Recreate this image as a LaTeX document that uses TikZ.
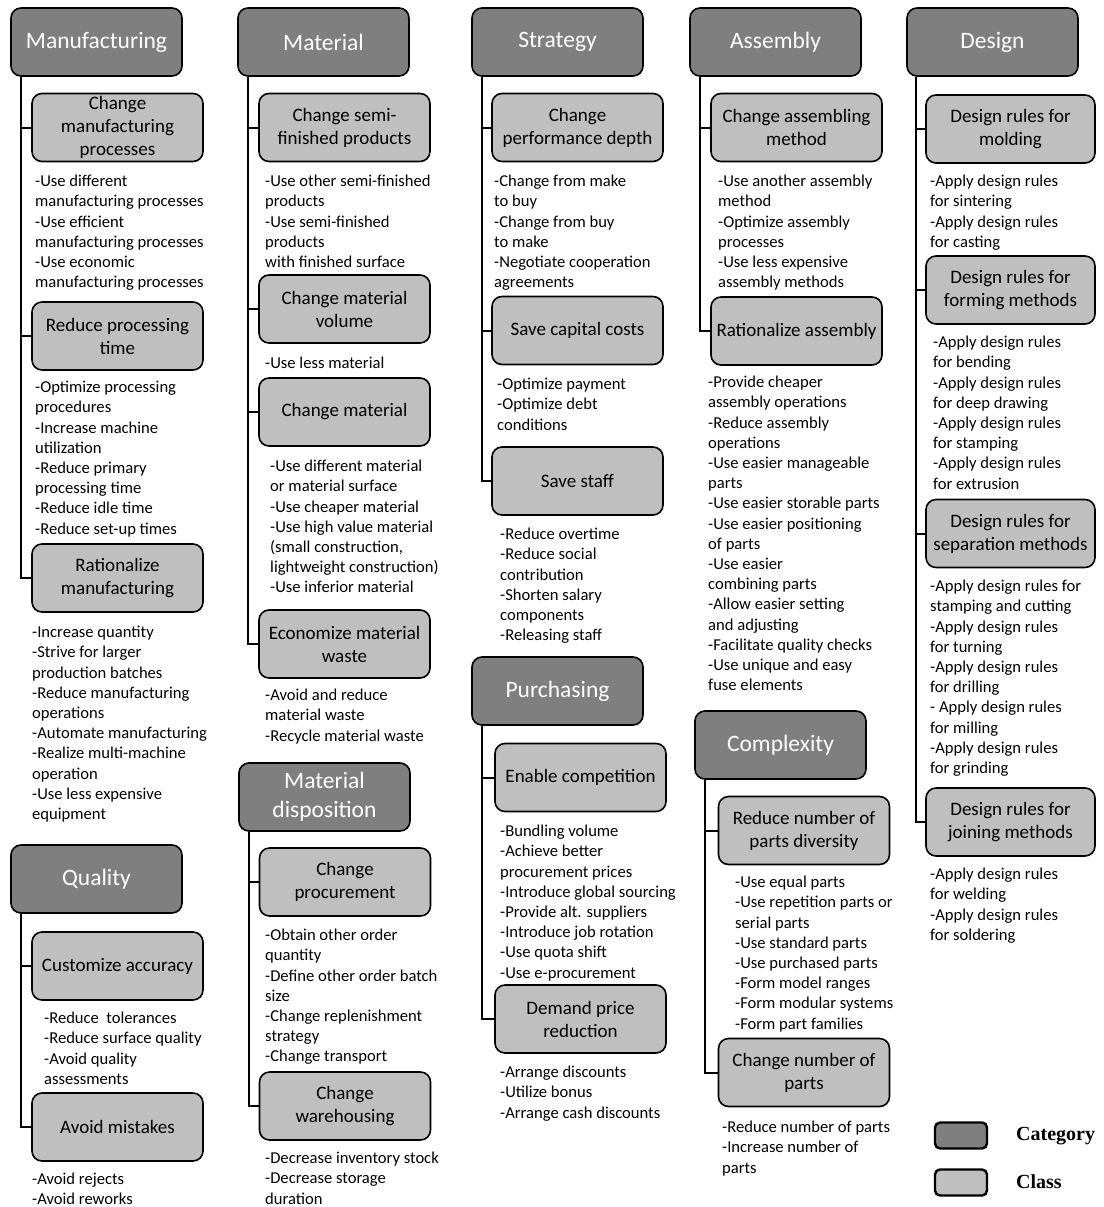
\documentclass[tikz,border=0pt]{standalone}
\usepackage{fontspec}
\setmainfont{Carlito}
\newfontfamily\legendfont{Liberation Serif}
\usetikzlibrary{positioning}

\definecolor{catgray}{HTML}{7F7F7F}
\definecolor{clsgray}{HTML}{BFBFBF}

\begin{document}
\begin{tikzpicture}[x=1pt, y=-1pt,
    category/.style={draw, line width=1.6pt, rounded corners=10pt, fill=catgray, text=white,
        minimum width=171pt, minimum height=68pt, inner sep=1pt, align=center,
        font=\fontsize{23.5}{29}\selectfont},
    class/.style={draw, line width=1.6pt, rounded corners=10pt, fill=clsgray,
        minimum width=171pt, minimum height=68pt, inner sep=1pt, align=center,
        font=\fontsize{19}{23}\selectfont},
    items/.style={anchor=north west, align=left, inner sep=0pt, yshift=-4pt,
        font=\fontsize{16.6}{20.2}\selectfont, execute at begin node=\strut},
    conn/.style={line width=2pt},
    key/.style={draw, line width=2.4pt, rounded corners=5pt,
        minimum width=52pt, minimum height=26pt, inner sep=0pt},
    keytext/.style={anchor=west, inner sep=0pt, font=\legendfont\bfseries\fontsize{20}{24}\selectfont}]

    \useasboundingbox (0,0) rectangle (1103,1207);

    % --- Manufacturing ---
    \node[category] (man) at (96.5,42) {Manufacturing};
    \node[class] (man1) at (117.5,127.5) {Change\\manufacturing\\processes};
    \node[items] (tman1) at (35,171) {-Use different\\manufacturing processes\\-Use efficient\\manufacturing processes\\-Use economic\\manufacturing processes};
    \node[class] (man2) at (117.5,336) {Reduce processing\\time};
    \node[items] (tman2) at (35,377) {-Optimize processing\\procedures\\-Increase machine\\utilization\\-Reduce primary\\processing time\\-Reduce idle time\\-Reduce set-up times};
    \node[class] (man3) at (117.5,578) {Rationalize\\manufacturing};
    \node[items] (tman3) at (32,622) {-Increase quantity\\-Strive for larger\\production batches\\-Reduce manufacturing\\operations\\-Automate manufacturing\\-Realize multi-machine\\operation\\-Use less expensive\\equipment};
    \foreach \c in {man1, man2, man3}
        \draw[conn] ([xshift=11pt]man.south west) |- (\c.west);

    % --- Quality ---
    \node[category] (qual) at (96.5,879) {Quality};
    \node[class] (qual1) at (117.5,966) {Customize accuracy};
    \node[items] (tqual1) at (44,1008) {-Reduce~ tolerances\\-Reduce surface quality\\-Avoid quality\\assessments};
    \node[class] (qual2) at (117.5,1127) {Avoid mistakes};
    \node[items] (tqual2) at (32,1169) {-Avoid rejects\\-Avoid reworks};
    \foreach \c in {qual1, qual2}
        \draw[conn] ([xshift=11pt]qual.south west) |- (\c.west);

    % --- Material ---
    \node[category] (mat) at (323.5,42) {Material};
    \node[class] (mat1) at (344.5,127.5) {Change semi-\\finished products};
    \node[items] (tmat1) at (265,171) {-Use other semi-finished\\products\\-Use semi-finished\\products\\with finished surface};
    \node[class] (mat2) at (344.5,309) {Change material\\volume};
    \node[items] (tmat2) at (265,350) {-Use less material};
    \node[class] (mat3) at (344.5,412) {Change material};
    \node[items] (tmat3) at (270,456) {-Use different material\\or material surface\\-Use cheaper material\\-Use high value material\\(small construction,\\lightweight construction)\\-Use inferior material};
    \node[class] (mat4) at (344.5,644) {Economize material\\waste};
    \node[items] (tmat4) at (265,685) {-Avoid and reduce\\material waste\\-Recycle material waste};
    \foreach \c in {mat1, mat2, mat3, mat4}
        \draw[conn] ([xshift=11pt]mat.south west) |- (\c.west);

    % --- Material disposition ---
    \node[category] (disp) at (324.5,797) {Material\\disposition};
    \node[class] (disp1) at (345,882) {Change\\procurement};
    \node[items] (tdisp1) at (265,925) {-Obtain other order\\quantity\\-Define other order batch\\size\\-Change replenishment\\strategy\\-Change transport};
    \node[class] (disp2) at (345,1106) {Change\\warehousing};
    \node[items] (tdisp2) at (265,1148) {-Decrease inventory stock\\-Decrease storage\\duration};
    \foreach \c in {disp1, disp2}
        \draw[conn] ([xshift=11pt]disp.south west) |- (\c.west);

    % --- Strategy ---
    \node[category] (strat) at (557.5,42) {Strategy};
    \node[class] (strat1) at (577.5,127.5) {Change\\performance depth};
    \node[items] (tstrat1) at (494,171) {-Change from make\\to buy\\-Change from buy\\to make\\-Negotiate cooperation\\agreements};
    \node[class] (strat2) at (577.5,330.5) {Save capital costs};
    \node[items] (tstrat2) at (497,374) {-Optimize payment\\-Optimize debt\\conditions};
    \node[class] (strat3) at (577.5,481) {Save staff};
    \node[items] (tstrat3) at (500,524) {-Reduce overtime\\-Reduce social\\contribution\\-Shorten salary\\components\\-Releasing staff};
    \foreach \c in {strat1, strat2, strat3}
        \draw[conn] ([xshift=11pt]strat.south west) |- (\c.west);

    % --- Purchasing ---
    \node[category] (pur) at (557.5,691) {Purchasing};
    \node[class] (pur1) at (580.5,777.5) {Enable competition};
    \node[items] (tpur1) at (500,821) {-Bundling volume\\-Achieve better\\procurement prices\\-Introduce global sourcing\\-Provide alt. suppliers\\-Introduce job rotation\\-Use quota shift\\-Use e-procurement};
    \node[class] (pur2) at (580.5,1019) {Demand price\\reduction};
    \node[items] (tpur2) at (500,1062) {-Arrange discounts\\-Utilize bonus\\-Arrange cash discounts};
    \foreach \c in {pur1, pur2}
        \draw[conn] ([xshift=11pt]pur.south west) |- (\c.west);

    % --- Assembly ---
    \node[category] (asm) at (775.5,42) {Assembly};
    \node[class] (asm1) at (796.5,127.5) {Change assembling\\method};
    \node[items] (tasm1) at (718,171) {-Use another assembly\\method\\-Optimize assembly\\processes\\-Use less expensive\\assembly methods};
    \node[class] (asm2) at (796.5,331) {Rationalize assembly};
    \node[items] (tasm2) at (708,372) {-Provide cheaper\\assembly operations\\-Reduce assembly\\operations\\-Use easier manageable\\parts\\-Use easier storable parts\\-Use easier positioning\\of parts\\-Use easier\\combining parts\\-Allow easier setting\\and adjusting\\-Facilitate quality checks\\-Use unique and easy\\fuse elements};
    \foreach \c in {asm1, asm2}
        \draw[conn] ([xshift=11pt]asm.south west) |- (\c.west);

    % --- Complexity ---
    \node[category] (cplx) at (780.5,745) {Complexity};
    \node[class] (cplx1) at (804,830.5) {Reduce number of\\parts diversity};
    \node[items] (tcplx1) at (735,872) {-Use equal parts\\-Use repetition parts or\\serial parts\\-Use standard parts\\-Use purchased parts\\-Form model ranges\\-Form modular systems\\-Form part families};
    \node[class] (cplx2) at (804,1072.5) {Change number of\\parts};
    \node[items] (tcplx2) at (722,1117) {-Reduce number of parts\\-Increase number of\\parts};
    \foreach \c in {cplx1, cplx2}
        \draw[conn] ([xshift=11pt]cplx.south west) |- (\c.west);

    % --- Design ---
    \node[category] (des) at (992.5,42) {Design};
    \node[class, minimum width=169pt] (des1) at (1010.5,129) {Design rules for\\molding};
    \node[items] (tdes1) at (930,171) {-Apply design rules\\for sintering\\-Apply design rules\\for casting};
    \node[class, minimum width=169pt] (des2) at (1010.5,290) {Design rules for\\forming methods};
    \node[items] (tdes2) at (933,332) {-Apply design rules\\for bending\\-Apply design rules\\for deep drawing\\-Apply design rules\\for stamping\\-Apply design rules\\for extrusion};
    \node[class, minimum width=169pt] (des3) at (1010.5,533.5) {Design rules for\\separation methods};
    \node[items] (tdes3) at (930,576) {-Apply design rules for\\stamping and cutting\\-Apply design rules\\for turning\\-Apply design rules\\for drilling\\- Apply design rules\\for milling\\-Apply design rules\\for grinding};
    \node[class, minimum width=169pt] (des4) at (1010.5,822) {Design rules for\\joining methods};
    \node[items] (tdes4) at (930,864) {-Apply design rules\\for welding\\-Apply design rules\\for soldering};
    \foreach \c in {des1, des2, des3, des4}
        \draw[conn] ([xshift=10pt]des.south west) |- (\c.west);

    % --- Legend ---
    \node[key, fill=catgray] (keycat) at (961,1135.5) {};
    \node[keytext] (keycattext) at (1016,1136) {Category};
    \node[key, fill=clsgray] (keycls) at (961,1182.5) {};
    \node[keytext] (keyclstext) at (1016,1182) {Class};
\end{tikzpicture}
\end{document}
